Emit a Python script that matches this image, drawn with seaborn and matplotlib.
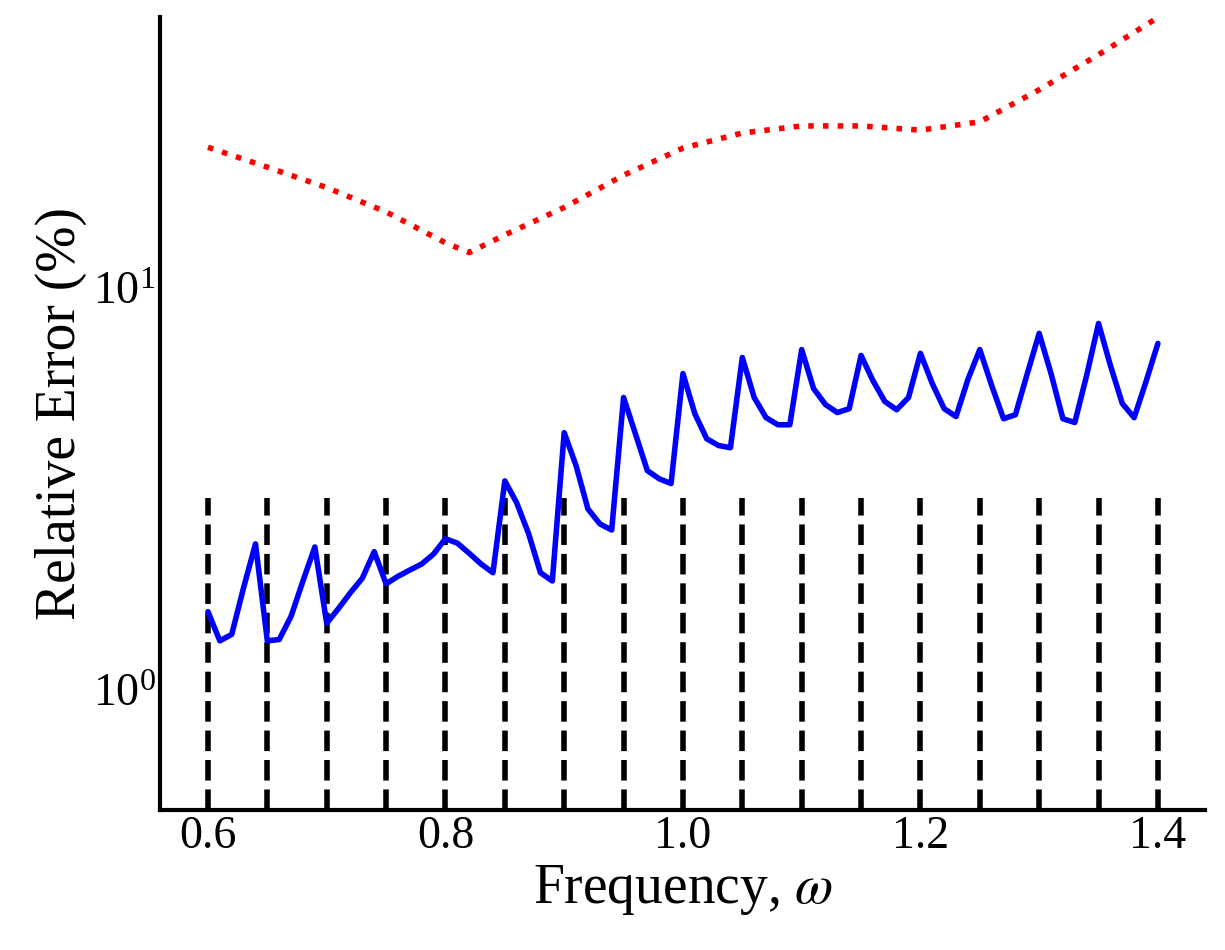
import numpy as np
import matplotlib
matplotlib.use("Agg")
import matplotlib.pyplot as plt
import seaborn as sns

freq = np.round(np.arange(0.60, 1.4001, 0.01), 2)
err_blue = [
    1.56, 1.32, 1.37, 1.79, 2.30, 1.32, 1.33, 1.52, 1.86, 2.26,
    1.46, 1.59, 1.74, 1.89, 2.20, 1.83, 1.91, 1.98, 2.05, 2.17,
    2.37, 2.31, 2.18, 2.05, 1.95, 3.30, 2.91, 2.44, 1.95, 1.86,
    4.35, 3.60, 2.81, 2.58, 2.49, 5.32, 4.32, 3.50, 3.34, 3.25,
    6.10, 4.85, 4.20, 4.04, 3.99, 6.69, 5.32, 4.74, 4.55, 4.55,
    7.00, 5.60, 5.11, 4.88, 4.99, 6.77, 5.86, 5.20, 4.96, 5.32,
    6.85, 5.76, 4.99, 4.77, 5.90, 7.00, 5.70, 4.71, 4.82, 6.10,
    7.68, 6.10, 4.71, 4.61, 6.04, 8.13, 6.39, 5.14, 4.74, 5.83,
    7.25,
]
freq_red = [0.60, 0.65, 0.70, 0.75, 0.80, 0.82, 0.85, 0.90, 0.95, 1.00,
            1.05, 1.10, 1.15, 1.20, 1.25, 1.30, 1.35, 1.40]
err_red = [22.3, 19.9, 17.7, 15.4, 12.9, 12.2, 13.5, 15.8, 19.0, 22.2,
           24.2, 25.2, 25.2, 24.6, 25.8, 31.0, 37.9, 46.9]
marker_freq = np.round(np.arange(0.60, 1.4001, 0.05), 2)
marker_top = 3.0

sns.set_style("white")
plt.rcParams["font.family"] = ["Liberation Serif", "DejaVu Serif"]
plt.rcParams["mathtext.fontset"] = "stix"
plt.rcParams["text.color"] = "black"
plt.rcParams["axes.labelcolor"] = "black"
plt.rcParams["xtick.color"] = "black"
plt.rcParams["ytick.color"] = "black"

fig, ax = plt.subplots(figsize=(12.25, 9.5), dpi=100)
fig.subplots_adjust(left=0.131, right=0.984, bottom=0.147, top=0.982)

ax.vlines(marker_freq, 0.5, marker_top, colors="black", linestyles="--", linewidth=4)
sns.lineplot(x=freq, y=err_blue, ax=ax, color="blue", linewidth=4)
sns.lineplot(x=freq_red, y=err_red, ax=ax, color="red", linewidth=4, linestyle=":")

ax.set_yscale("log")
ax.set_ylim(0.5, 47)
ax.set_xlim(0.56, 1.44)
ax.set_xticks([0.6, 0.8, 1.0, 1.2, 1.4])
ax.set_xlabel(r"Frequency, $\omega$", fontsize=40)
ax.set_ylabel("Relative Error (%)", fontsize=40)
ax.tick_params(labelsize=33, length=0)
ax.tick_params(which="minor", length=0)
sns.despine(ax=ax)
for s in ["left", "bottom"]:
    ax.spines[s].set_linewidth(3)
    ax.spines[s].set_color("black")

fig.savefig("out.png", dpi=100)
